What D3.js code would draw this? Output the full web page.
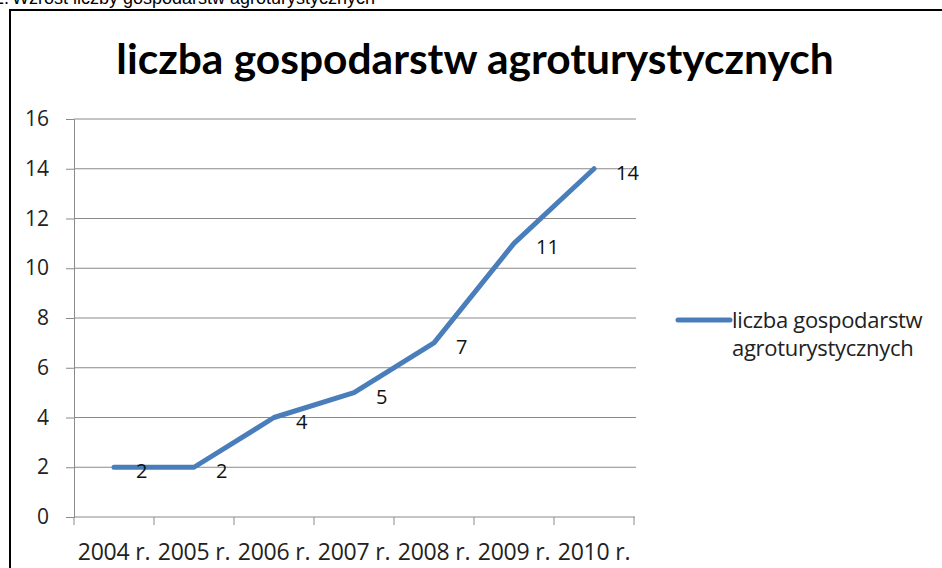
<!DOCTYPE html>
<html>
<head>
<meta charset="utf-8">
<script src="https://cdn.jsdelivr.net/npm/d3@7/dist/d3.min.js"></script>
<style>
  html, body { margin: 0; padding: 0; background: #fff; }
  svg { display: block; }
  text { font-family: Lato, "Open Sans", sans-serif; }
</style>
</head>
<body>
<svg id="chart" width="942" height="568"></svg>
<script>
// Number of agritourism farms per year
const years = ["2004 r.", "2005 r.", "2006 r.", "2007 r.", "2008 r.", "2009 r.", "2010 r."];
const farms = [2, 2, 4, 5, 7, 11, 14];
const yTicks = [0, 2, 4, 6, 8, 10, 12, 14, 16];
const legendLines = ["liczba gospodarstw", "agroturystycznych"];
const chartTitle = "liczba gospodarstw agroturystycznych";
const captionPrefix = "Rys. 2.";
const captionText = "Wzrost liczby gospodarstw agroturystycznych";

const svg = d3.select("#chart");
const lineColor = "#4A7EBB";
const gridColor = "#8a8a8a";
const labelFont = "'Open Sans', Lato, sans-serif";

// caption above the chart frame (runs past the top page edge)
svg.append("text")
  .attr("x", 9).attr("y", 4)
  .attr("text-anchor", "end")
  .style("font-family", "'Liberation Sans', Arial, sans-serif")
  .style("font-size", "18px")
  .attr("fill", "#000")
  .text(captionPrefix);
svg.append("text")
  .attr("x", 12).attr("y", 4)
  .style("font-family", "'Liberation Sans', Arial, sans-serif")
  .style("font-size", "18px")
  .attr("fill", "#000")
  .text(captionText);

// chart frame: left and top edges visible, rest runs off the page
svg.append("rect")
  .attr("x", 10).attr("y", 10)
  .attr("width", 960).attr("height", 600)
  .attr("fill", "#fff")
  .attr("stroke", "#000")
  .attr("stroke-width", 2);

// title
svg.append("text")
  .attr("x", 475).attr("y", 74)
  .attr("text-anchor", "middle")
  .style("font-size", "42.5px")
  .style("font-weight", "bold")
  .attr("fill", "#000")
  .text(chartTitle);

const x = d3.scaleBand().domain(years).range([74, 634]).padding(0);
const y = d3.scaleLinear().domain([0, 16]).range([517, 119]);

// horizontal gridlines
svg.append("g")
  .selectAll("line")
  .data(yTicks.filter(t => t > 0))
  .join("line")
  .attr("x1", 74).attr("x2", 636)
  .attr("y1", d => y(d)).attr("y2", d => y(d))
  .attr("stroke", gridColor)
  .attr("stroke-width", 1);

// y axis
const yAxis = svg.append("g")
  .attr("transform", "translate(74,0)")
  .call(d3.axisLeft(y).tickValues(yTicks).tickSize(8).tickPadding(17));
yAxis.select(".domain").attr("stroke", gridColor);
yAxis.selectAll(".tick line").attr("stroke", gridColor);
yAxis.selectAll(".tick text")
  .style("font-size", "21px")
  .style("font-family", labelFont)
  .attr("fill", "#222");

// x axis with tick marks at category boundaries
const xAxisG = svg.append("g").attr("transform", "translate(0,517)");
xAxisG.append("line")
  .attr("x1", 74).attr("x2", 635)
  .attr("stroke", gridColor);
const bounds = years.map(d => x(d)).concat([x.range()[1]]);
xAxisG.selectAll("line.tk")
  .data(bounds)
  .join("line")
  .attr("class", "tk")
  .attr("x1", d => d).attr("x2", d => d)
  .attr("y1", 0).attr("y2", 8)
  .attr("stroke", gridColor);
xAxisG.selectAll("text")
  .data(years)
  .join("text")
  .attr("x", d => x(d) + x.bandwidth() / 2)
  .attr("y", 43)
  .attr("text-anchor", "middle")
  .style("font-family", labelFont)
  .style("font-size", "23px")
  .style("letter-spacing", "-0.2px")
  .attr("fill", "#222")
  .text(d => d);

// series line
const pts = years.map((yr, i) => ({ yr, v: farms[i] }));
const line = d3.line()
  .x(d => x(d.yr) + x.bandwidth() / 2)
  .y(d => y(d.v));
svg.append("path")
  .datum(pts)
  .attr("d", line)
  .attr("fill", "none")
  .attr("stroke", lineColor)
  .attr("stroke-width", 5)
  .attr("stroke-linejoin", "round")
  .attr("stroke-linecap", "round");

// value labels to the right of each point
svg.append("g")
  .selectAll("text")
  .data(pts)
  .join("text")
  .attr("x", d => x(d.yr) + x.bandwidth() / 2 + 22)
  .attr("y", d => y(d.v) + 11)
  .style("font-family", labelFont)
  .style("font-size", "20px")
  .attr("fill", "#111")
  .text(d => d.v);

// legend
const lg = svg.append("g");
lg.append("line")
  .attr("x1", 678).attr("x2", 730)
  .attr("y1", 320).attr("y2", 320)
  .attr("stroke", lineColor)
  .attr("stroke-width", 5)
  .attr("stroke-linecap", "round");
lg.selectAll("text")
  .data(legendLines)
  .join("text")
  .attr("x", 732)
  .attr("y", (d, i) => 328 + i * 28)
  .style("font-family", labelFont)
  .style("font-size", "22px")
  .style("letter-spacing", "-0.3px")
  .attr("fill", "#222")
  .text(d => d);
</script>
</body>
</html>
